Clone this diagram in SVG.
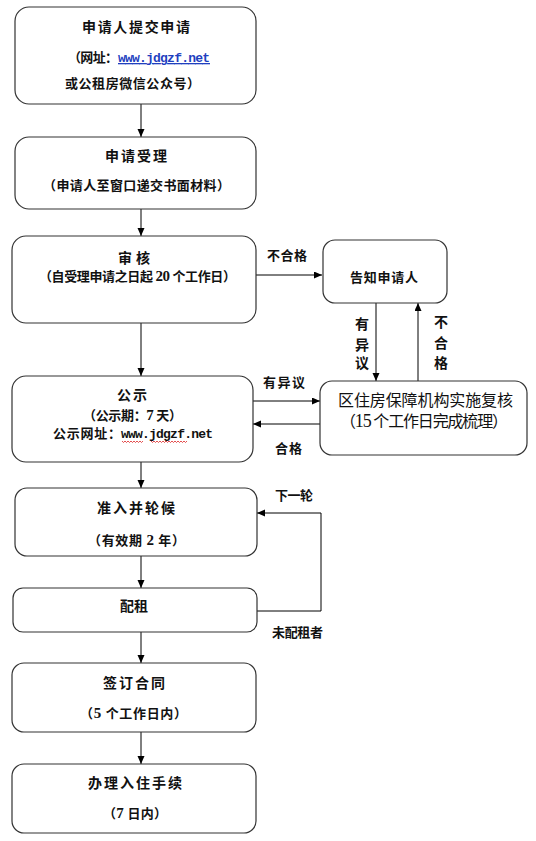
<svg xmlns="http://www.w3.org/2000/svg" width="536" height="841" viewBox="0 0 536 841">
<defs>
<marker id="ah" markerUnits="userSpaceOnUse" markerWidth="9" markerHeight="8" refX="8" refY="3.5" orient="auto">
<path d="M0,0 L8,3.5 L0,7 z" fill="#000"/>
</marker>
<style>
.box{fill:#fff;stroke:#333;stroke-width:1.2}
.t{font-family:"Liberation Serif","Noto Sans CJK SC",serif;font-weight:bold;fill:#111}
.t14{font-size:14px}
.t13{font-size:13px}
.t16{font-size:16px;font-weight:normal}
.d{font-size:15px}
.d18{font-size:18px}
.c{stroke:#000;stroke-width:1;fill:none}
.a{marker-end:url(#ah)}
.mono{font-family:"Liberation Mono","Noto Sans CJK SC",monospace}
.url{fill:#1f3fbf;text-decoration:underline}
.wave{stroke:#d22;stroke-width:0.8;fill:none}
</style>
</defs>
<rect width="536" height="841" fill="#fff"/>

<g id="connectors">
<path class="c a" d="M141,104 V137"/>
<path class="c a" d="M141,209 V236"/>
<path class="c a" d="M141,323 V376"/>
<path class="c a" d="M141,462 V488"/>
<path class="c a" d="M141,556 V588"/>
<path class="c a" d="M141,632 V663"/>
<path class="c a" d="M141,732 V764"/>
<path class="c a" d="M256,275 H322"/>
<path class="c a" d="M376,303 V381"/>
<path class="c a" d="M418,381 V303"/>
<path class="c a" d="M253,401 H320"/>
<path class="c a" d="M320,424 H253"/>
<path class="c a" d="M257,611 H321 V513 H257"/>
<text class="t t13" x="267" y="260" textLength="40" lengthAdjust="spacing">不合格</text>
<text class="t t14" x="362" y="329" text-anchor="middle">有</text>
<text class="t t14" x="362" y="350" text-anchor="middle">异</text>
<text class="t t14" x="362" y="368" text-anchor="middle">议</text>
<text class="t t14" x="441" y="327" text-anchor="middle">不</text>
<text class="t t14" x="441" y="348" text-anchor="middle">合</text>
<text class="t t14" x="441" y="368" text-anchor="middle">格</text>
<text class="t t13" x="263" y="386.5" textLength="42" lengthAdjust="spacing">有异议</text>
<text class="t t13" x="275" y="453" textLength="27" lengthAdjust="spacing">合格</text>
<text class="t t13" x="275" y="500" textLength="38" lengthAdjust="spacing">下一轮</text>
<text class="t t13" x="272" y="637" textLength="51" lengthAdjust="spacing">未配租者</text>
</g>

<g id="n1">
<rect class="box" x="15" y="7" width="241" height="97" rx="14"/>
<text class="t t14" x="82" y="32" textLength="108" lengthAdjust="spacing">申请人提交申请</text>
<text class="t t13" x="68" y="62" textLength="50" lengthAdjust="spacing">（网址：</text>
<text class="t t13 mono url" x="118" y="62" textLength="92" lengthAdjust="spacing">www.jdgzf.net</text>
<text class="t t13" x="65" y="88" textLength="135" lengthAdjust="spacing">或公租房微信公众号）</text>
</g>

<g id="n2">
<rect class="box" x="15" y="137" width="241" height="72" rx="14"/>
<text class="t t14" x="105" y="161" textLength="62" lengthAdjust="spacing">申请受理</text>
<text class="t t13" x="43" y="190" textLength="187" lengthAdjust="spacing">（申请人至窗口递交书面材料）</text>
</g>

<g id="n3">
<rect class="box" x="12" y="236" width="244" height="87" rx="14"/>
<text class="t t14" x="118" y="262.5" textLength="32" lengthAdjust="spacing">审核</text>
<text class="t t13" x="39" y="281" textLength="197" lengthAdjust="spacing">（自受理申请之日起 <tspan class="d">20</tspan> 个工作日）</text>
</g>

<g id="n4">
<rect class="box" x="323" y="240" width="124" height="63" rx="12"/>
<text class="t t13" x="350" y="281.5" textLength="68" lengthAdjust="spacing">告知申请人</text>
</g>

<g id="n5">
<rect class="box" x="12" y="376" width="241" height="86" rx="14"/>
<text class="t t14" x="117" y="400" textLength="30" lengthAdjust="spacing">公示</text>
<text class="t t13" x="83" y="420" textLength="99" lengthAdjust="spacing">（公示期：<tspan class="d">7</tspan> 天）</text>
<text class="t t13" x="53" y="438" textLength="68" lengthAdjust="spacing">公示网址：</text>
<text class="t t13 mono" x="121" y="438" textLength="92" lengthAdjust="spacing">www.jdgzf.net</text>
<path class="wave" d="M122,441 l1.5,1.5 l1.5,-1.5 l1.5,1.5 l1.5,-1.5 l1.5,1.5 l1.5,-1.5 l1.5,1.5 l1.5,-1.5 l1.5,1.5 l1.5,-1.5 l1.5,1.5 l1.5,-1.5 l1.5,1.5 l1.5,-1.5"/>
<path class="wave" d="M151,441 l1.5,1.5 l1.5,-1.5 l1.5,1.5 l1.5,-1.5 l1.5,1.5 l1.5,-1.5 l1.5,1.5 l1.5,-1.5 l1.5,1.5 l1.5,-1.5 l1.5,1.5 l1.5,-1.5 l1.5,1.5 l1.5,-1.5 l1.5,1.5 l1.5,-1.5 l1.5,1.5 l1.5,-1.5 l1.5,1.5 l1.5,-1.5 l1.5,1.5 l1.5,-1.5 l1.5,1.5 l1.5,-1.5"/>
</g>

<g id="n6">
<rect class="box" x="320" y="381" width="207" height="74" rx="12"/>
<text class="t t16" x="338" y="405.5" textLength="175" lengthAdjust="spacing">区住房保障机构实施复核</text>
<text class="t t16" x="340" y="427" textLength="168" lengthAdjust="spacing">（<tspan class="d18">15</tspan> 个工作日完成梳理）</text>
</g>

<g id="n7">
<rect class="box" x="15" y="488" width="242" height="68" rx="12"/>
<text class="t t14" x="97" y="513" textLength="78" lengthAdjust="spacing">准入并轮候</text>
<text class="t t13" x="88" y="545" textLength="97" lengthAdjust="spacing">（有效期 <tspan class="d">2</tspan> 年）</text>
</g>

<g id="n8">
<rect class="box" x="13" y="588" width="244" height="44" rx="10"/>
<text class="t t14" x="120" y="611" textLength="28" lengthAdjust="spacing">配租</text>
</g>

<g id="n9">
<rect class="box" x="12" y="663" width="244" height="69" rx="12"/>
<text class="t t14" x="103" y="688" textLength="62" lengthAdjust="spacing">签订合同</text>
<text class="t t13" x="80" y="718" textLength="107" lengthAdjust="spacing">（<tspan class="d">5</tspan> 个工作日内）</text>
</g>

<g id="n10">
<rect class="box" x="12" y="764" width="244" height="69" rx="12"/>
<text class="t t14" x="88" y="788" textLength="94" lengthAdjust="spacing">办理入住手续</text>
<text class="t t13" x="103" y="818" textLength="64" lengthAdjust="spacing">（<tspan class="d">7</tspan> 日内）</text>
</g>
</svg>
